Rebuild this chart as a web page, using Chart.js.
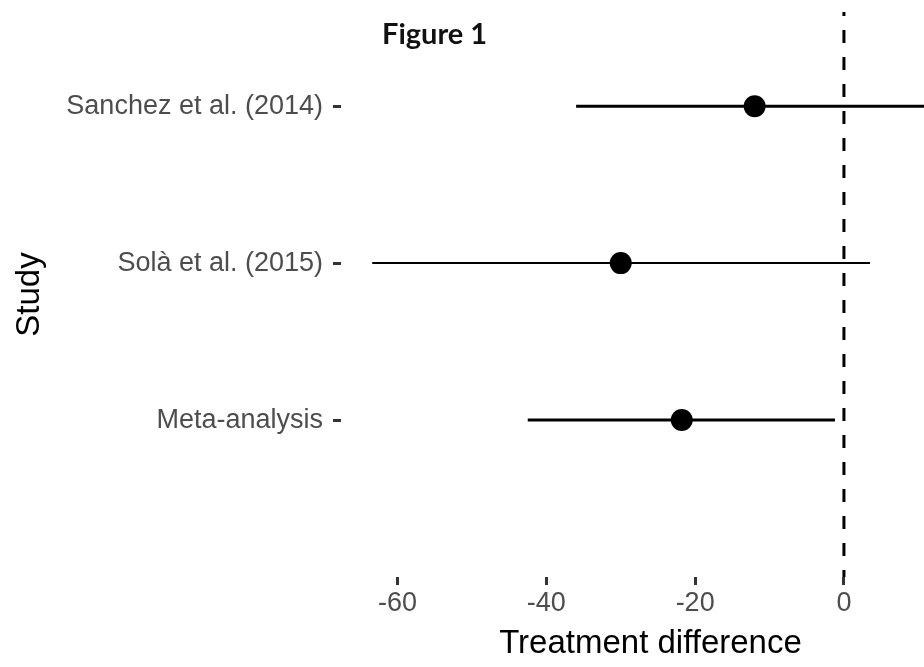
<!DOCTYPE html>
<html>
<head>
<meta charset="utf-8">
<script src="https://cdn.jsdelivr.net/npm/chart.js@4"></script>
<style>
  html, body { margin: 0; padding: 0; background: #fff; overflow: hidden; }
  #wrap { position: relative; width: 924px; height: 667px; overflow: hidden; }
  #fig { position: absolute; left: 382px; top: 18px; font: 700 29px Lato, sans-serif; line-height: 1; color: #111; }
</style>
</head>
<body>
<div id="wrap">
  <canvas id="chart" width="960" height="667"></canvas>
  <div id="fig">Figure 1</div>
</div>
<script>
// forest plot data
const studies = ['Sanchez et al. (2014)', 'Solà et al. (2015)', 'Meta-analysis'];
const positions = [3, 2, 1];
const estimates = [-12, -30, -21.8];
const lower = [-36, -63.4, -42.5];
const upper = [12, 3.5, -1.2];
const lineWidths = [3, 2, 3];
const xTicks = [-60, -40, -20, 0];

const datasets = [];

datasets.push({
    type: 'scatter',
    data: estimates.map((v, i) => ({ x: v, y: positions[i] })),
    pointRadius: 11,
    pointBackgroundColor: '#000',
    pointBorderWidth: 0
});

studies.forEach((s, i) => {
    datasets.push({
        type: 'line',
        data: [{ x: lower[i], y: positions[i] }, { x: upper[i], y: positions[i] }],
        borderColor: '#000',
        borderWidth: lineWidths[i],
        pointRadius: 0
    });
});

// reference line at zero
datasets.push({
    type: 'line',
    data: [{ x: 0, y: 3.6 }, { x: 0, y: 0 }],
    borderColor: '#000',
    borderWidth: 3,
    borderDash: [13, 14],
    borderDashOffset: 9,
    pointRadius: 0
});

new Chart(document.getElementById('chart'), {
    data: { datasets },
    options: {
        responsive: false,
        animation: false,
        devicePixelRatio: 1,
        layout: { autoPadding: false, padding: { top: 12, right: 0, left: 0, bottom: 0 } },
        plugins: { legend: { display: false }, tooltip: { enabled: false } },
        scales: {
            x: {
                type: 'linear',
                min: -67.6,
                max: 15.6,
                border: { display: false },
                grid: { drawOnChartArea: false, tickLength: 8, tickWidth: 3, tickColor: '#333' },
                afterBuildTicks: scale => { scale.ticks = xTicks.map(v => ({ value: v })); },
                ticks: { font: { family: 'Liberation Sans', size: 27 }, color: '#4d4d4d', padding: 2 },
                title: {
                    display: true,
                    text: 'Treatment difference',
                    font: { family: 'Liberation Sans', size: 33 },
                    color: '#000',
                    padding: { top: 0, bottom: 3 }
                },
                afterFit: scale => {
                    scale.height = 90;
                    scale.paddingLeft = 0;
                    scale.paddingRight = 0;
                }
            },
            y: {
                type: 'linear',
                min: 0,
                max: 3.6,
                border: { display: false },
                grid: { drawOnChartArea: false, tickLength: 8, tickWidth: 3, tickColor: '#333' },
                afterBuildTicks: scale => { scale.ticks = positions.map(v => ({ value: v })); },
                ticks: {
                    font: { family: 'Liberation Sans', size: 27 },
                    color: '#4d4d4d',
                    padding: 10,
                    callback: v => studies[positions.indexOf(v)]
                },
                title: {
                    display: true,
                    text: 'Study',
                    font: { family: 'Liberation Sans', size: 33 },
                    color: '#000',
                    padding: { top: 10, bottom: 0 }
                },
                afterFit: scale => {
                    scale.width = 341;
                    scale.paddingTop = 0;
                    scale.paddingBottom = 0;
                }
            }
        }
    }
});
</script>
</body>
</html>
